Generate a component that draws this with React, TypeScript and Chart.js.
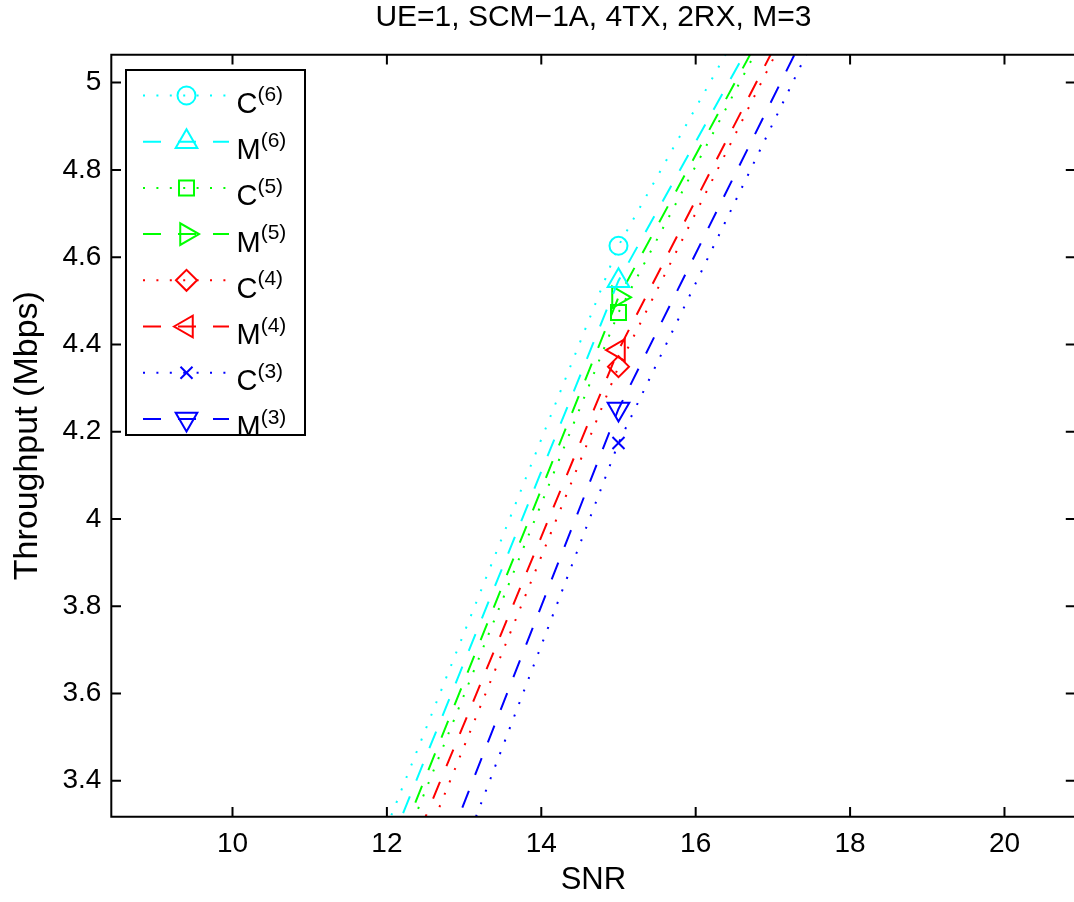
import React, { useEffect, useRef } from 'react';
import { Chart, registerables } from 'chart.js';

Chart.register(...registerables);

// ---------- text ----------
const TITLE = 'UE=1, SCM\u22121A, 4TX, 2RX, M=3';
const X_LABEL = 'SNR';
const Y_LABEL = 'Throughput (Mbps)';

// ---------- axes ----------
const X_MIN = 8.43;
const X_MAX = 20.92;
const Y_MIN = 3.3175;
const Y_MAX = 5.064;
const X_TICKS = [10, 12, 14, 16, 18, 20];
const X_TICK_LABELS = ['10', '12', '14', '16', '18', '20'];
const Y_TICKS = [3.4, 3.6, 3.8, 4, 4.2, 4.4, 4.6, 4.8, 5];
const Y_TICK_LABELS = ['3.4', '3.6', '3.8', '4', '4.2', '4.4', '4.6', '4.8', '5'];

// ---------- series: SNR points and throughput (Mbps) ----------
const SNR = [10, 15, 20];
const C6 = [2.408, 4.626, 6.206];
const M6 = [2.359, 4.546, 6.138];
const C5 = [2.282, 4.473, 6.152];
const M5 = [2.308, 4.508, 6.139];
const C4 = [2.173, 4.349, 6.109];
const M4 = [2.247, 4.387, 6.105];
const C3 = [1.854, 4.174, 6.005];
const M3 = [1.994, 4.252, 6.033];

const SERIES_BASE = ['C', 'M', 'C', 'M', 'C', 'M', 'C', 'M'];
const SERIES_SUP = ['(6)', '(6)', '(5)', '(5)', '(4)', '(4)', '(3)', '(3)'];
const SERIES = [C6, M6, C5, M5, C4, M4, C3, M3];

// ---------- styles ----------
const FONT = '"Liberation Sans", Arial, Helvetica, sans-serif';
const COLORS = ['#00ffff', '#00ffff', '#00ff00', '#00ff00', '#ff0000', '#ff0000', '#0000ff', '#0000ff'];
const DOT = [2, 11.4];
const DASH = [18, 17];
const DASHES = [DOT, DASH, DOT, DASH, DOT, DASH, DOT, DASH];
const MARKERS = [
  { style: 'circle', r: 9, rot: 0 },
  { style: 'triangle', r: 12.5, rot: 0 },
  { style: 'rect', r: 10.6, rot: 0 },
  { style: 'triangle', r: 12.5, rot: 90 },
  { style: 'rectRot', r: 10.5, rot: 0 },
  { style: 'triangle', r: 12.5, rot: 270 },
  { style: 'crossRot', r: 8.5, rot: 0 },
  { style: 'triangle', r: 12.5, rot: 180 },
];

function drawMarker(ctx: CanvasRenderingContext2D, style: string, rot: number, x: number, y: number, r: number) {
  ctx.beginPath();
  if (style === 'circle') {
    ctx.arc(x, y, r, 0, Math.PI * 2);
  } else if (style === 'triangle') {
    let a = (rot * Math.PI) / 180;
    ctx.moveTo(x + Math.sin(a) * r, y - Math.cos(a) * r);
    a += (2 * Math.PI) / 3;
    ctx.lineTo(x + Math.sin(a) * r, y - Math.cos(a) * r);
    a += (2 * Math.PI) / 3;
    ctx.lineTo(x + Math.sin(a) * r, y - Math.cos(a) * r);
    ctx.closePath();
  } else if (style === 'rect') {
    const s = Math.SQRT1_2 * r;
    ctx.rect(x - s, y - s, 2 * s, 2 * s);
  } else if (style === 'rectRot') {
    ctx.moveTo(x - r, y);
    ctx.lineTo(x, y - r);
    ctx.lineTo(x + r, y);
    ctx.lineTo(x, y + r);
    ctx.closePath();
  } else if (style === 'crossRot') {
    const d = Math.SQRT1_2 * r;
    ctx.moveTo(x - d, y - d);
    ctx.lineTo(x + d, y + d);
    ctx.moveTo(x - d, y + d);
    ctx.lineTo(x + d, y - d);
  }
  ctx.stroke();
}

const framePlugin = {
  id: 'matlabFrame',
  afterDraw(chart: any) {
    const { ctx, chartArea, scales } = chart;
    const { left, right, top, bottom } = chartArea;
    const TL = 9.7;
    ctx.save();
    ctx.strokeStyle = '#000';
    ctx.lineWidth = 2;
    ctx.setLineDash([]);
    ctx.beginPath();
    ctx.rect(left, top, right - left, bottom - top);
    X_TICKS.forEach((v) => {
      const px = scales.x.getPixelForValue(v);
      ctx.moveTo(px, bottom);
      ctx.lineTo(px, bottom - TL);
      ctx.moveTo(px, top);
      ctx.lineTo(px, top + TL);
    });
    Y_TICKS.forEach((v) => {
      const py = scales.y.getPixelForValue(v);
      ctx.moveTo(left, py);
      ctx.lineTo(left + TL, py);
      ctx.moveTo(right, py);
      ctx.lineTo(right - TL, py);
    });
    ctx.stroke();

    // legend
    const L = { x: 126, y: 70, w: 179, h: 365 };
    ctx.fillStyle = '#fff';
    ctx.fillRect(L.x, L.y, L.w, L.h);
    ctx.strokeRect(L.x, L.y, L.w, L.h);
    const row0 = 95.5;
    const step = 46.2;
    for (let i = 0; i < SERIES_BASE.length; i++) {
      const ry = row0 + i * step;
      ctx.strokeStyle = COLORS[i];
      ctx.lineWidth = 2;
      ctx.setLineDash(DASHES[i]);
      ctx.beginPath();
      ctx.moveTo(143, ry);
      ctx.lineTo(229, ry);
      ctx.stroke();
      ctx.setLineDash([]);
      const m = MARKERS[i];
      drawMarker(ctx, m.style, m.rot, 186.5, ry, m.r);
      ctx.fillStyle = '#000';
      ctx.textAlign = 'left';
      ctx.textBaseline = 'alphabetic';
      ctx.font = `29px ${FONT}`;
      ctx.fillText(SERIES_BASE[i], 236.5, ry + 17.5);
      const w = ctx.measureText(SERIES_BASE[i]).width;
      ctx.font = `21px ${FONT}`;
      ctx.fillText(SERIES_SUP[i], 236.5 + w, ry + 5);
    }
    ctx.restore();
  },
};

export default function App() {
  const ref = useRef<HTMLCanvasElement | null>(null);
  useEffect(() => {
    if (!ref.current) return;
    Chart.defaults.font.family = FONT;
    Chart.defaults.color = '#000';
    const datasets: any[] = SERIES.map((vals, i) => ({
      label: SERIES_BASE[i] + SERIES_SUP[i],
      data: SNR.map((x, j) => ({ x, y: vals[j] })),
      showLine: true,
      borderColor: COLORS[i],
      borderWidth: 2,
      borderDash: DASHES[i],
      borderCapStyle: 'butt',
      fill: false,
      clip: 0,
      pointStyle: MARKERS[i].style,
      pointRadius: MARKERS[i].r,
      pointHoverRadius: MARKERS[i].r,
      pointRotation: MARKERS[i].rot,
      pointBorderColor: COLORS[i],
      pointBackgroundColor: 'rgba(0,0,0,0)',
      pointBorderWidth: 2,
      backgroundColor: 'rgba(0,0,0,0)',
    }));
    const chart = new Chart(ref.current, {
      type: 'scatter',
      data: { datasets },
      plugins: [framePlugin],
      options: {
        animation: false,
        responsive: false,
        events: [],
        layout: { padding: { top: 0, left: 0, right: 10, bottom: 0 } },
        plugins: {
          legend: { display: false },
          tooltip: { enabled: false },
          title: {
            display: true,
            text: TITLE,
            fullSize: false,
            color: '#000',
            font: { family: FONT, size: 30, weight: 'normal', lineHeight: 1 },
            padding: { top: 3, bottom: 21.7 },
          },
        },
        scales: {
          x: {
            type: 'linear',
            min: X_MIN,
            max: X_MAX,
            grid: { display: false, drawTicks: false },
            border: { display: false },
            afterBuildTicks: (s: any) => {
              s.ticks = X_TICKS.map((v) => ({ value: v }));
            },
            afterFit: (s: any) => {
              s.height = 85.3;
            },
            ticks: {
              autoSkip: false,
              maxRotation: 0,
              padding: 11,
              color: '#000',
              font: { family: FONT, size: 28 },
              callback: (v: any) => {
                const k = X_TICKS.indexOf(Number(v));
                return k >= 0 ? X_TICK_LABELS[k] : '';
              },
            },
            title: {
              display: true,
              text: X_LABEL,
              color: '#000',
              font: { family: FONT, size: 31 },
              padding: { top: 0, bottom: 3 },
            },
          },
          y: {
            type: 'linear',
            min: Y_MIN,
            max: Y_MAX,
            grid: { display: false, drawTicks: false },
            border: { display: false },
            afterBuildTicks: (s: any) => {
              s.ticks = Y_TICKS.map((v) => ({ value: v }));
            },
            afterFit: (s: any) => {
              s.width = 111.3;
            },
            ticks: {
              autoSkip: false,
              padding: 10,
              color: '#000',
              font: { family: FONT, size: 28 },
              callback: (v: any) => {
                const k = Y_TICKS.indexOf(Number(v));
                return k >= 0 ? Y_TICK_LABELS[k] : '';
              },
            },
            title: {
              display: true,
              text: Y_LABEL,
              color: '#000',
              font: { family: FONT, size: 34 },
              padding: { top: 7, bottom: 0 },
            },
          },
        },
      } as any,
    });
    return () => chart.destroy();
  }, []);

  return (
    <div style={{ position: 'absolute', left: 0, top: 0, width: 1074, height: 902, overflow: 'hidden', background: '#fff' }}>
      <canvas ref={ref} width={1090} height={902} style={{ display: 'block', width: 1090, height: 902 }} />
    </div>
  );
}
